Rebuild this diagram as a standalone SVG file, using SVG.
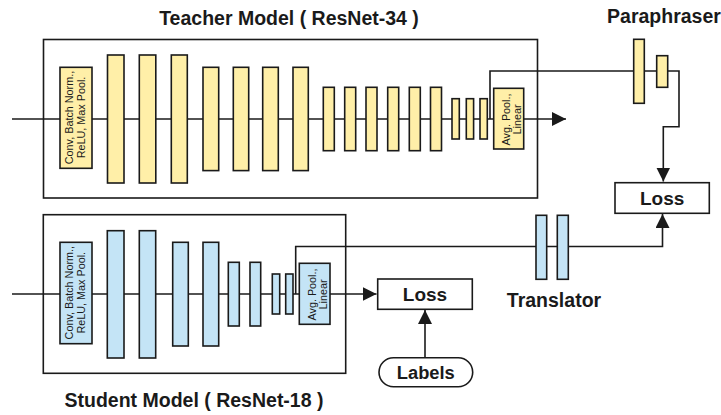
<svg xmlns="http://www.w3.org/2000/svg" width="721" height="415" viewBox="0 0 721 415">
<defs>
<style>
.t{fill:#FFEFA8;stroke:#1a1a1a;stroke-width:1.6}
.s{fill:#C4E4F6;stroke:#1a1a1a;stroke-width:1.6}
.frame{fill:none;stroke:#1a1a1a;stroke-width:1.6}
.box{fill:#fff;stroke:#1a1a1a;stroke-width:1.6}
.ln{fill:none;stroke:#1a1a1a;stroke-width:1.6}
.title{font-family:"Liberation Sans",Arial,sans-serif;font-weight:bold;font-size:19.5px;fill:#1a1a1a;text-anchor:middle}
.lbl{font-family:"Liberation Sans",Arial,sans-serif;font-weight:bold;font-size:19px;fill:#1a1a1a;text-anchor:middle}
.small{font-family:"Liberation Sans",Arial,sans-serif;font-size:10.8px;fill:#1a1a1a;text-anchor:middle}
</style>
<marker id="arr" viewBox="0 0 10 10" refX="10" refY="5" markerWidth="14" markerHeight="14" markerUnits="userSpaceOnUse" orient="auto">
<path d="M0,0 L10,5 L0,10 z" fill="#1a1a1a"/>
</marker>
</defs>

<g id="connectors">
<path class="ln" d="M12,119 H566" marker-end="url(#arr)"/>
<path class="ln" d="M490,119 V71 H679 V126.7 H663.3 V181.5" marker-end="url(#arr)"/>
<path class="ln" d="M12,294 H376.5" marker-end="url(#arr)"/>
<path class="ln" d="M295.7,294 V246.5 H662.5 V214" marker-end="url(#arr)"/>
<path class="ln" d="M425,357.5 V310" marker-end="url(#arr)"/>
</g>

<g id="teacher">
<rect class="frame" x="43.5" y="39.5" width="494" height="158.5"/>
<text class="title" x="289" y="25">Teacher Model ( ResNet-34 )</text>
<rect class="t" x="60" y="67.3" width="32" height="101"/>
<text class="small" transform="translate(76,117.5) rotate(-90)"><tspan x="0" y="-3">Conv, Batch Norm.,</tspan><tspan x="0" y="8.5">ReLU, Max Pool.</tspan></text>
<rect class="t" x="107.5" y="55" width="16.5" height="128"/>
<rect class="t" x="139.3" y="55" width="16.5" height="128"/>
<rect class="t" x="171.3" y="55" width="16" height="128"/>
<rect class="t" x="203" y="67.3" width="15.7" height="103.3"/>
<rect class="t" x="233.3" y="67.3" width="15.4" height="103.3"/>
<rect class="t" x="262.7" y="67.3" width="15.6" height="103.3"/>
<rect class="t" x="293" y="67.3" width="15.3" height="103.3"/>
<rect class="t" x="323.3" y="87.3" width="11" height="63.4"/>
<rect class="t" x="344.7" y="87.3" width="11" height="63.4"/>
<rect class="t" x="366" y="87.3" width="11" height="63.4"/>
<rect class="t" x="387.7" y="87.3" width="11" height="63.4"/>
<rect class="t" x="409.3" y="87.3" width="11" height="63.4"/>
<rect class="t" x="430.5" y="87.3" width="11" height="63.4"/>
<rect class="t" x="452" y="98.7" width="7.3" height="40.3"/>
<rect class="t" x="466.3" y="98.7" width="7.3" height="40.3"/>
<rect class="t" x="480" y="98.7" width="7.3" height="40.3"/>
<rect class="t" x="493.7" y="88.3" width="30" height="60.7"/>
<text class="small" transform="translate(508.7,119.5) rotate(-90)"><tspan x="0" y="1.3">Avg. Pool.,</tspan><tspan x="0" y="12">Linear</tspan></text>
</g>

<g id="paraphraser">
<text class="title" x="664" y="23">Paraphraser</text>
<rect class="t" x="633.7" y="39.3" width="10.6" height="64"/>
<rect class="t" x="656.7" y="55.7" width="11" height="31.6"/>
</g>

<g id="loss-top">
<rect class="box" x="615" y="182.7" width="94.3" height="30.6"/>
<text class="lbl" x="662.2" y="204.5">Loss</text>
</g>

<g id="student">
<rect class="frame" x="43.3" y="214.7" width="302.4" height="158.6"/>
<text class="title" x="194" y="406.5">Student Model ( ResNet-18 )</text>
<rect class="s" x="60" y="242.3" width="32" height="101.4"/>
<text class="small" transform="translate(76,292.7) rotate(-90)"><tspan x="0" y="-3">Conv, Batch Norm.,</tspan><tspan x="0" y="8.5">ReLU, Max Pool.</tspan></text>
<rect class="s" x="107.3" y="230.7" width="16.7" height="127.3"/>
<rect class="s" x="139.3" y="230.7" width="16.4" height="127.3"/>
<rect class="s" x="172.7" y="242.3" width="15.6" height="103.7"/>
<rect class="s" x="203" y="242.3" width="15.7" height="103.7"/>
<rect class="s" x="228.3" y="262.3" width="11" height="63.7"/>
<rect class="s" x="250" y="262.3" width="10.7" height="63.7"/>
<rect class="s" x="272.3" y="274" width="7.4" height="40"/>
<rect class="s" x="285.7" y="274" width="7.3" height="40"/>
<rect class="s" x="299.3" y="263.3" width="30.7" height="61"/>
<text class="small" transform="translate(314.7,294.5) rotate(-90)"><tspan x="0" y="1.3">Avg. Pool.,</tspan><tspan x="0" y="12">Linear</tspan></text>
</g>

<g id="translator">
<rect class="s" x="536" y="215.3" width="10.7" height="64"/>
<rect class="s" x="557.3" y="215.3" width="11" height="64"/>
<text class="title" x="554" y="306.5">Translator</text>
</g>

<g id="loss-bottom">
<rect class="box" x="377.7" y="279" width="94.6" height="30.3"/>
<text class="lbl" x="425" y="300.5">Loss</text>
</g>

<g id="labels">
<rect class="box" x="379" y="357.7" width="93.7" height="29" rx="14.5" ry="14.5"/>
<text class="title" x="425.8" y="379" style="font-size:18.3px">Labels</text>
</g>
</svg>
